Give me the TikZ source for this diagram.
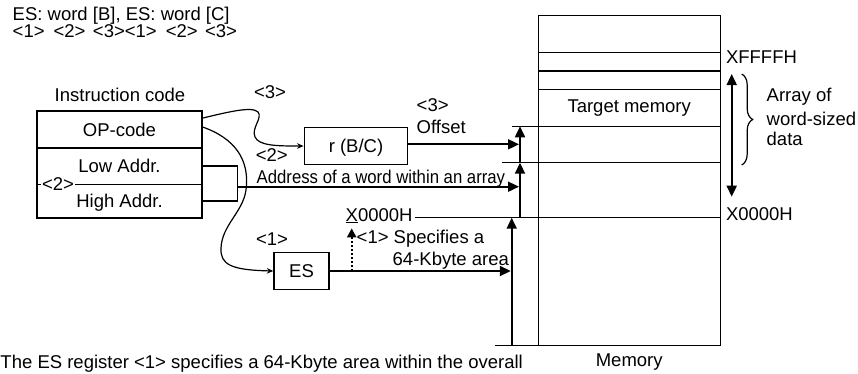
\documentclass[tikz,border=0pt]{standalone}
\usepackage{fontspec}
\usepackage{graphicx}
\setmainfont{Liberation Sans}
\usetikzlibrary{arrows.meta,decorations.pathreplacing}
\begin{document}
\begin{tikzpicture}[x=1pt,y=-1pt,font=\fontsize{18.5}{22}\selectfont,
  lbl/.style={inner sep=0pt,outer sep=0pt},
  cell/.style={draw,line width=1.4pt,inner sep=0pt,text height=13.2pt,text depth=0pt},
  big/.style={line width=1.8pt,-{Triangle[length=11pt,width=10pt]}},
  thinarrow/.style={line width=1.2pt,-{Stealth[length=6.5pt,width=5.5pt]}},
  memline/.style={line width=1.3pt}]
\useasboundingbox (0,0) rectangle (858,373);

% top text
\node[lbl,anchor=base west] (t1) at (12.7,20) {ES: word [B], ES: word [C]};
\node[lbl,anchor=base west] (t2) at (12.7,37) {<1>\hspace{9pt}<2>\hspace{7.5pt}<3><1>\hspace{9pt}<2>\hspace{7.5pt}<3>};

% instruction code
\node[lbl,anchor=base] (ictitle) at (120,101.7) {Instruction code};
\node[cell,minimum width=165pt,minimum height=37pt] (op) at (119.5,129.5) {OP-code};
\node[cell,minimum width=165pt,minimum height=36.3pt] (lo) at (119.5,166.15) {Low Addr.};
\node[cell,minimum width=165pt,minimum height=33.7pt] (hi) at (119.5,201.15) {High Addr.};
\node[lbl,fill=white,inner xsep=1pt,anchor=base] (two) at (58,190) {<2>};

% bracket and address arrow
\coordinate (brk) at (237.3,186.7);
\draw[line width=1.4pt] (lo.east) -| (brk) |- (hi.east);
\coordinate (adrtip) at (519,186.7);
\draw[big] (brk) -- (adrtip);
\node[lbl,anchor=base west] (adrl) at (256.7,183.3) {\scalebox{0.905}[1]{Address of a word within an array}};

% r (B/C)
\node[cell,minimum width=103.4pt,minimum height=36.6pt] (r) at (356,146) {r (B/C)};
\coordinate (c1) at (201.7,118.3);
\draw[thinarrow] (c1) .. controls (228,112) and (252,106) .. (258,112) .. controls (263,118) and (251,128) .. (255,137) .. controls (259,146) and (278,146) .. (r.west);
\node[lbl,anchor=base] (l3a) at (270,98.5) {<3>};
\node[lbl,anchor=base] (l2a) at (271.7,161.5) {<2>};

% offset
\coordinate (offtip) at (519,144.3);
\draw[big] (r.east |- offtip) -- (offtip);
\node[lbl,anchor=base west] (l3b) at (416.7,111.7) {<3>};
\node[lbl,anchor=base west] (offl) at (416.7,133.3) {Offset};

% vertical bus x=520
\coordinate (b0) at (520,217.7);
\coordinate (b1) at (520,162.7);
\coordinate (b2) at (520,126.3);
\draw[big] (b0) -- (b1);
\draw[big] (b1) -- (b2);

% memory
\draw[line width=1.4pt] (538.3,15.7) rectangle (720.7,345.5);
\draw[memline] (538.3,52.7) -- (720.7,52.7);
\draw[memline] (538.3,71) -- (720.7,71);
\draw[memline] (538.3,89.3) -- (720.7,89.3);
\draw[memline] (511.7,126.3) -- (720.7,126.3);
\draw[memline] (501.7,162.7) -- (720.7,162.7);
\node[lbl,anchor=base west] (xl) at (345.7,221) {\underline{X}0000H};
\coordinate (xline) at (415,217.7);
\draw[memline] (xline) -- (720.7,217.7);
\draw[memline] (495,345.5) -- (538.3,345.5);
\node[lbl,anchor=base] (tm) at (629.2,112.5) {Target memory};
\node[lbl,anchor=base] (meml) at (629.2,366) {Memory};
\node[lbl,anchor=base west] (xf) at (726,63.3) {XFFFFH};
\node[lbl,anchor=base west] (x0) at (726,220) {X0000H};

% bus x=511.7
\coordinate (bb) at (511.7,345.5);
\coordinate (bt) at (511.7,217.7);
\draw[big] (bb) -- (bt);

% ES
\node[cell,minimum width=55pt,minimum height=36.6pt] (es) at (301.5,271) {ES};
\coordinate (estip) at (510.8,271);
\draw[big] (es.east) -- (estip);
\coordinate (c2) at (201.7,126.7);
\draw[thinarrow] (c2) .. controls (235,138) and (250,160) .. (246,190) .. controls (243,212) and (222,225) .. (221,248) .. controls (220,265) and (232,270) .. (es.west);
\node[lbl,anchor=base] (l1a) at (272,245) {<1>};

% dotted arrow
\coordinate (dotb) at (351.7,271);
\coordinate (dott) at (351.7,228.3);
\draw[line width=2pt,dotted,-{Triangle[length=9pt,width=9pt]}] (dotb) -- (dott);
\node[lbl,anchor=base west] (spec1) at (356.7,243.3) {<1> Specifies a};
\node[lbl,anchor=base west] (spec2) at (392.7,265) {64-Kbyte area};

% array double arrow and brace
\coordinate (da) at (731.7,74);
\coordinate (db) at (731.7,196.7);
\draw[line width=1.8pt,{Triangle[length=11pt,width=10pt]}-{Triangle[length=11pt,width=10pt]}] (da) -- (db);
\draw[line width=1.2pt,decorate,decoration={brace,amplitude=11pt}] (741.7,74) -- (741.7,165);
\node[lbl,anchor=base west] (ar1) at (766.7,101.7) {Array of};
\node[lbl,anchor=base west] (ar2) at (766.7,125) {word-sized};
\node[lbl,anchor=base west] (ar3) at (766.7,145) {data};

% bottom text
\node[lbl,anchor=base west] (bot) at (0.5,368.5) {The ES register <1> specifies a 64-Kbyte area within the overall};
\end{tikzpicture}
\end{document}
